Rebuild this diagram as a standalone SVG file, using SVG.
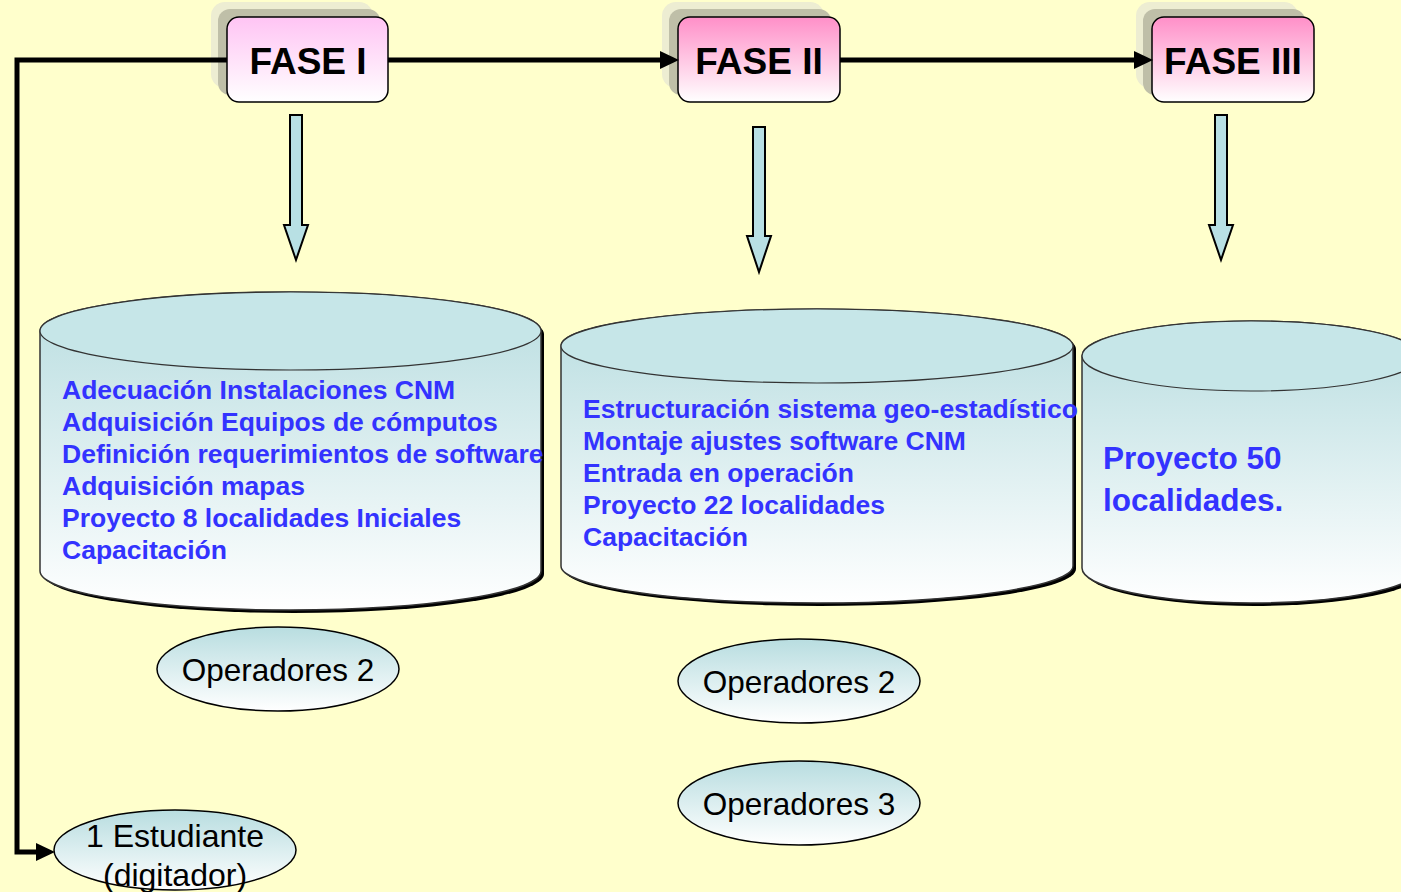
<svg xmlns="http://www.w3.org/2000/svg" width="1401" height="892" viewBox="0 0 1401 892">
<style>
.fase{font-family:"Liberation Sans",Arial,sans-serif;font-weight:bold;font-size:37px;fill:#000;text-anchor:middle}
.box{stroke:#000;stroke-width:1.5}
.sh1{fill:#EDEDD2}
.sh2{fill:#BFBFA8}
.cyl{stroke:#333;stroke-width:1.5;fill:url(#cylG)}
.cylsh{fill:#000}
.top{fill:#C6E6E8;stroke:#333;stroke-width:1.2}
.blue{font-family:"Liberation Sans",Arial,sans-serif;font-weight:bold;font-size:26.5px;fill:#3333FF}
.blue2{font-family:"Liberation Sans",Arial,sans-serif;font-weight:bold;font-size:31.5px;fill:#3333FF}
.ell{fill:url(#ellG);stroke:#000;stroke-width:1.5}
.lab{font-family:"Liberation Sans",Arial,sans-serif;font-size:31.5px;fill:#000;text-anchor:middle}
.down{fill:#B8E0E4;stroke:#000;stroke-width:2}
.conn{fill:none;stroke:#000;stroke-width:5}
.head{fill:#000}
</style>
<defs>
<linearGradient id="pink1" x1="0" y1="0" x2="0" y2="1"><stop offset="0" stop-color="#FFC4F4"/><stop offset="1" stop-color="#FFFFFF"/></linearGradient>
<linearGradient id="pink2" x1="0" y1="0" x2="0" y2="1"><stop offset="0" stop-color="#FF8FC8"/><stop offset="1" stop-color="#FFFFFF"/></linearGradient>
<linearGradient id="cylG" x1="0" y1="0" x2="0" y2="1"><stop offset="0" stop-color="#B8DDE0"/><stop offset="1" stop-color="#FFFFFF"/></linearGradient>
<linearGradient id="ellG" x1="0" y1="0" x2="0" y2="1"><stop offset="0" stop-color="#B8DDE0"/><stop offset="1" stop-color="#FFFFFF"/></linearGradient>
</defs>
<rect width="1401" height="892" fill="#FFFFCC"/>

<g id="fase1">
<rect class="sh1" x="211" y="2" width="162" height="86" rx="14"/>
<rect class="sh2" x="218" y="9" width="162" height="86" rx="12"/>
<rect class="box" x="227" y="17" width="161" height="85" rx="12" fill="url(#pink1)"/>
<text class="fase" x="308" y="74">FASE I</text>
</g>
<g id="fase2">
<rect class="sh1" x="662" y="2" width="162" height="86" rx="14"/>
<rect class="sh2" x="669" y="9" width="162" height="86" rx="12"/>
<rect class="box" x="678" y="17" width="162" height="85" rx="12" fill="url(#pink2)"/>
<text class="fase" x="759" y="74">FASE II</text>
</g>
<g id="fase3">
<rect class="sh1" x="1136" y="2" width="162" height="86" rx="14"/>
<rect class="sh2" x="1143" y="9" width="162" height="86" rx="12"/>
<rect class="box" x="1152" y="17" width="162" height="85" rx="12" fill="url(#pink2)"/>
<text class="fase" x="1233" y="74">FASE III</text>
</g>

<g id="connectors">
<path class="conn" d="M227,60 L17,60 L17,852 L40,852"/>
<path class="head" d="M36,843 L55,852 L36,861 Z"/>
<path class="conn" d="M388,60 L664,60"/>
<path class="head" d="M660,51 L679,60 L660,69 Z"/>
<path class="conn" d="M840,60 L1138,60"/>
<path class="head" d="M1134,51 L1153,60 L1134,69 Z"/>
<path class="down" d="M290,115 L302,115 L302,225 L308,225 L296,260 L284,225 L290,225 Z"/>
<path class="down" d="M753,127 L765,127 L765,236 L771,236 L759,272 L747,236 L753,236 Z"/>
<path class="down" d="M1215,115 L1227,115 L1227,225 L1233,225 L1221,260 L1209,225 L1215,225 Z"/>
</g>

<g id="cyl1">
<path class="cylsh" d="M43,334 A250.5,39 0 0 1 544,334 L544,574 A250.5,39 0 0 1 43,574 Z"/>
<path class="cyl" d="M40,331 A250.5,39 0 0 1 541,331 L541,571 A250.5,39 0 0 1 40,571 Z"/>
<ellipse class="top" cx="290.5" cy="331" rx="250.5" ry="39"/>
<text class="blue" x="62" y="399">Adecuación Instalaciones CNM</text>
<text class="blue" x="62" y="431">Adquisición Equipos de cómputos</text>
<text class="blue" x="62" y="463">Definición requerimientos de software</text>
<text class="blue" x="62" y="495">Adquisición mapas</text>
<text class="blue" x="62" y="527">Proyecto 8 localidades Iniciales</text>
<text class="blue" x="62" y="559">Capacitación</text>
</g>

<g id="cyl2">
<path class="cylsh" d="M564,349 A256,37 0 0 1 1076,349 L1076,569 A256,37 0 0 1 564,569 Z"/>
<path class="cyl" d="M561,346 A256,37 0 0 1 1073,346 L1073,566 A256,37 0 0 1 561,566 Z"/>
<ellipse class="top" cx="817" cy="346" rx="256" ry="37"/>
<text class="blue" x="583" y="418">Estructuración sistema geo-estadístico</text>
<text class="blue" x="583" y="450">Montaje ajustes software CNM</text>
<text class="blue" x="583" y="482">Entrada en operación</text>
<text class="blue" x="583" y="514">Proyecto 22 localidades</text>
<text class="blue" x="583" y="546">Capacitación</text>
</g>

<g id="cyl3">
<path class="cylsh" d="M1085,359 A169,35 0 0 1 1423,359 L1423,571 A169,35 0 0 1 1085,571 Z"/>
<path class="cyl" d="M1082,356 A169,35 0 0 1 1420,356 L1420,568 A169,35 0 0 1 1082,568 Z"/>
<ellipse class="top" cx="1251" cy="356" rx="169" ry="35"/>
<text class="blue2" x="1103" y="469">Proyecto 50</text>
<text class="blue2" x="1103" y="511">localidades.</text>
</g>

<g id="op1">
<ellipse class="ell" cx="278" cy="669" rx="121" ry="42"/>
<text class="lab" x="278" y="681">Operadores 2</text>
</g>
<g id="op2">
<ellipse class="ell" cx="799" cy="681" rx="121" ry="42"/>
<text class="lab" x="799" y="693">Operadores 2</text>
</g>
<g id="op3">
<ellipse class="ell" cx="799" cy="803" rx="121" ry="42"/>
<text class="lab" x="799" y="815">Operadores 3</text>
</g>
<g id="estudiante">
<ellipse class="ell" cx="175" cy="850" rx="121" ry="40"/>
<text class="lab" x="175" y="847" style="font-size:32px">1 Estudiante</text>
<text class="lab" x="175" y="886" style="font-size:32px">(digitador)</text>
</g>
</svg>
